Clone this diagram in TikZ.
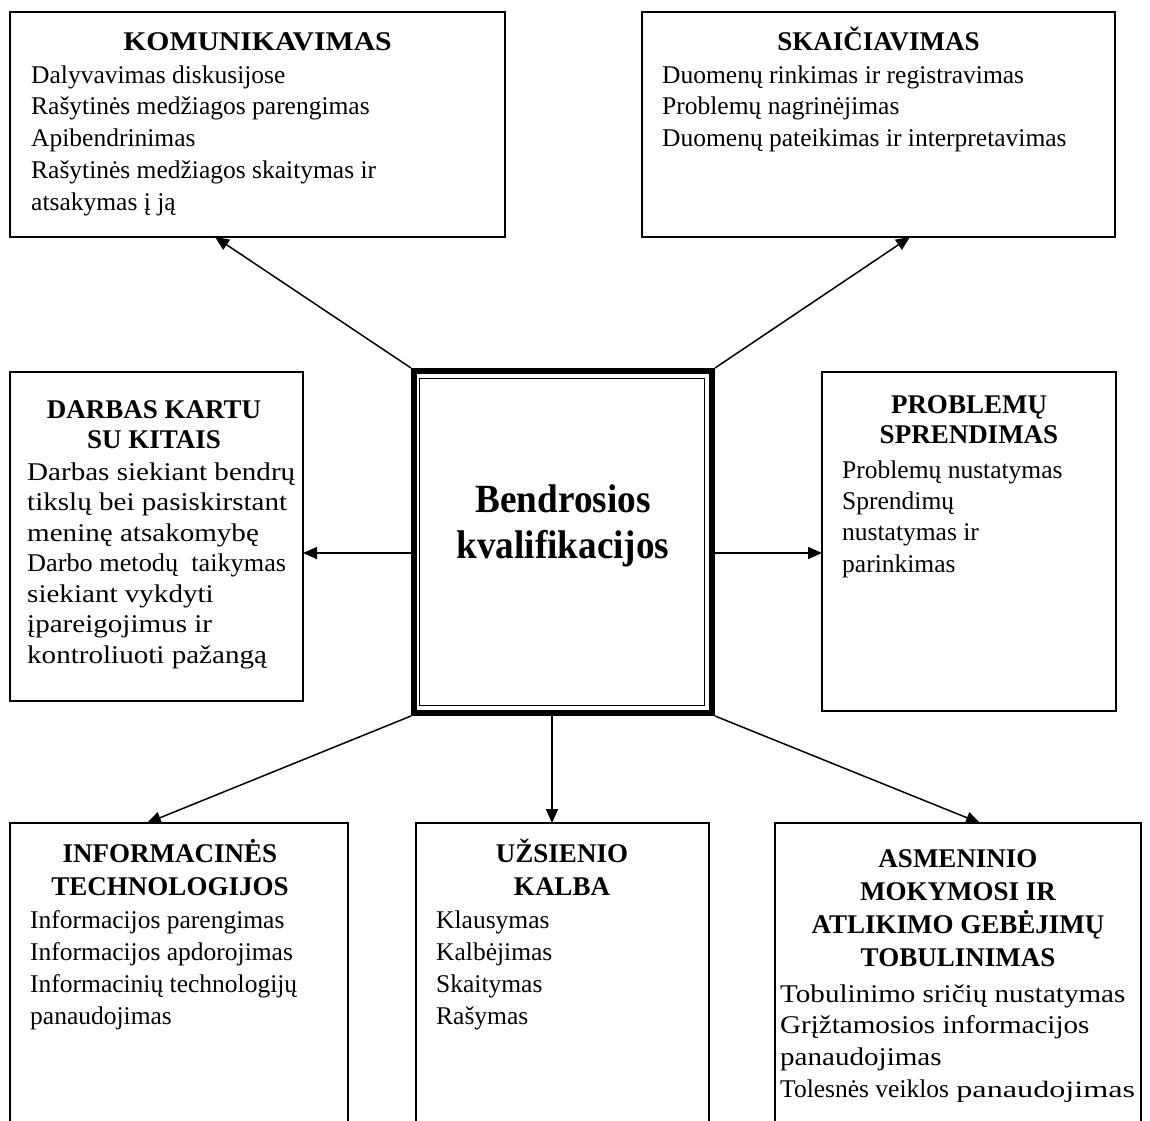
\documentclass[tikz,border=0pt]{standalone}
\usepackage{fontspec}
\usepackage{graphicx}
\setmainfont{Liberation Serif}
\newfontfamily\strfont[FakeStretch=1.14]{Liberation Serif}
\newfontfamily\lessfont[FakeStretch=1.03]{Liberation Serif}
\newfontfamily\wfont[FakeStretch=1.1]{Liberation Serif}
\newfontfamily\titlefont[FakeStretch=0.93]{Liberation Serif}
\usetikzlibrary{arrows.meta,calc}
\newcommand{\firstl}{\rule{0pt}{30bp}}
\tikzset{
  box/.style={draw, line width=1.5bp, inner sep=0pt, outer sep=0pt, anchor=north west},
  body/.style={anchor=north west, inner sep=0pt, align=left, font=\fontsize{25.5bp}{31.75bp}\selectfont},
  head/.style={anchor=north, inner sep=0pt, align=center, font=\bfseries\fontsize{27bp}{33bp}\selectfont},
  arr/.style={line width=1.5bp, -{Triangle[length=14bp,width=12bp]}}
}
\begin{document}
\begin{tikzpicture}[x=1bp,y=-1bp]
\useasboundingbox (0,0) rectangle (1150,1121);
\clip (0,0) rectangle (1150,1121);
\fill[white] (0,0) rectangle (1150,1121);
% boxes
\node[box, minimum width=495bp, minimum height=225bp] (K) at (10,12) {};
\node[box, minimum width=473bp, minimum height=225bp] (S) at (642,12) {};
\node[box, minimum width=293bp, minimum height=329bp] (D) at (10,372) {};
\node[box, minimum width=294bp, minimum height=339bp] (P) at (822,372) {};
\node[box, minimum width=338bp, minimum height=340bp] (I) at (10,823) {};
\node[box, minimum width=293bp, minimum height=340bp] (U) at (416,823) {};
\node[box, minimum width=366bp, minimum height=340bp] (A) at (775,823) {};
% central box
\node[draw, line width=6bp, minimum width=298bp, minimum height=342bp, inner sep=0pt] (C) at (563,542) {};
\draw[line width=1bp] ($(C.north west)+(8.5,10)$) rectangle ($(C.south east)+(-10.5,-10.5)$);
\node[anchor=north, inner sep=0pt, align=center, font=\titlefont\bfseries\fontsize{40bp}{46bp}\selectfont] (T) at (563,472) {\rule{0pt}{40bp}Bendrosios\\kvalifikacijos};
% texts
\node[head, font=\wfont\bfseries\fontsize{27bp}{33bp}\selectfont] (Kh) at (257.5,20) {\firstl KOMUNIKAVIMAS};
\node[body] (Kt) at (31,53) {\firstl Dalyvavimas diskusijose\\Rašytinės medžiagos parengimas\\Apibendrinimas\\Rašytinės medžiagos skaitymas ir\\atsakymas į ją};
\node[head] (Sh) at (878.5,20) {\firstl SKAIČIAVIMAS};
\node[body] (St) at (662,53) {\firstl Duomenų rinkimas ir registravimas\\Problemų nagrinėjimas\\Duomenų pateikimas ir interpretavimas};
\node[head, font=\bfseries\fontsize{27bp}{30bp}\selectfont] (Dh) at (154,388) {\firstl DARBAS KARTU\\SU KITAIS};
\node[body, font=\strfont\fontsize{25.5bp}{30.5bp}\selectfont] (Dt) at (27,450) {\firstl Darbas siekiant bendrų\\tikslų bei pasiskirstant\\meninę atsakomybę\\{\lessfont Darbo metodų\ \ taikymas}\\siekiant vykdyti\\įpareigojimus ir\\kontroliuoti pažangą};
\node[head, font=\bfseries\fontsize{27bp}{30bp}\selectfont] (Ph) at (969,383) {\firstl PROBLEMŲ\\SPRENDIMAS};
\node[body, font=\fontsize{25.5bp}{31.3bp}\selectfont] (Pt) at (842,448) {\firstl Problemų nustatymas\\Sprendimų\\nustatymas ir\\parinkimas};
\node[head] (Ih) at (170,832) {\firstl INFORMACINĖS\\TECHNOLOGIJOS};
\node[body, font=\fontsize{25.5bp}{32bp}\selectfont] (It) at (30,898) {\firstl Informacijos parengimas\\Informacijos apdorojimas\\Informacinių technologijų\\panaudojimas};
\node[head] (Uh) at (562,832) {\firstl UŽSIENIO\\KALBA};
\node[body, font=\fontsize{25.5bp}{32bp}\selectfont] (Ut) at (436,898) {\firstl Klausymas\\Kalbėjimas\\Skaitymas\\Rašymas};
\node[head] (Ah) at (958,837) {\firstl ASMENINIO\\MOKYMOSI IR\\ATLIKIMO GEBĖJIMŲ\\TOBULINIMAS};
\node[body, font=\strfont\fontsize{25.5bp}{31.7bp}\selectfont] (At) at (780,972) {\firstl Tobulinimo sričių nustatymas\\Grįžtamosios informacijos\\panaudojimas\\{\rmfamily Tolesnės veiklos} {\rmfamily\fontsize{23.5bp}{23.5bp}\selectfont\scalebox{1.37}[1]{panaudojimas}}};
% connectors
\draw[arr] (C.north west) -- ([xshift=205bp]K.south west);
\draw[arr] (C.north east) -- ([xshift=268bp]S.south west);
\draw[arr] ([yshift=-11bp]C.west) -- ([yshift=-11bp]C.west -| D.east);
\draw[arr] ([yshift=-11bp]C.east) -- ([yshift=-11bp]C.east -| P.west);
\draw[arr] (C.south west) -- ([xshift=137bp]I.north west);
\draw[arr] ([xshift=-11bp]C.south) -- ([xshift=-11bp]C.south |- U.north);
\draw[arr] (C.south east) -- ([xshift=205bp]A.north west);
\end{tikzpicture}
\end{document}
